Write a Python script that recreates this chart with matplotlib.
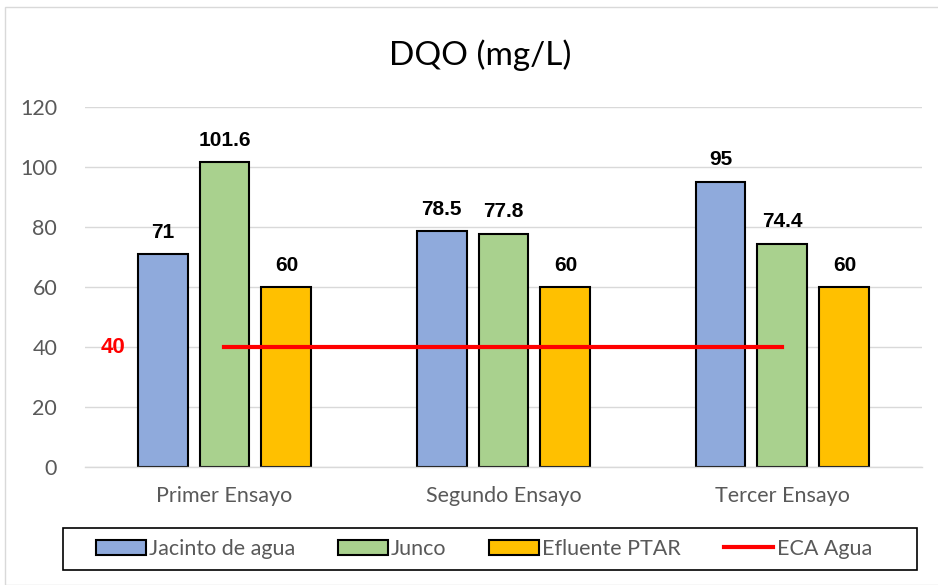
import matplotlib
matplotlib.use('Agg')
import matplotlib.pyplot as plt
import numpy as np
from matplotlib.patches import Rectangle, Patch
from matplotlib.lines import Line2D

# Datos de DQO por ensayo
ensayos = ['Primer Ensayo', 'Segundo Ensayo', 'Tercer Ensayo']
jacinto = [71, 78.5, 95]
junco = [101.6, 77.8, 74.4]
efluente = [60, 60, 60]
eca_agua = [40, 40, 40]

series = ['Jacinto de agua', 'Junco', 'Efluente PTAR']
colores = ['#8faadc', '#a9d18e', '#ffc000']
valores = [jacinto, junco, efluente]

plt.rcParams['font.family'] = ['Lato', 'DejaVu Sans']
fuente_negrita = ['Liberation Sans', 'DejaVu Sans']

fig = plt.figure(figsize=(9.38, 5.85), dpi=100)
ax = fig.add_axes([0.0906, 0.2017, 0.8923, 0.6154])

x = np.arange(len(ensayos))
ancho = 0.179
paso = 0.222

for i, (nombre, vals, color) in enumerate(zip(series, valores, colores)):
    pos = x + (i - 1) * paso
    ax.bar(pos, vals, width=ancho, color=color, edgecolor='black',
           linewidth=1.5, zorder=2)
    for xp, v in zip(pos, vals):
        ax.annotate(f'{v:g}', (xp, v), xytext=(0, 9), textcoords='offset points',
                    ha='center', va='bottom', fontsize=15, fontweight='bold',
                    family=fuente_negrita, color='black')

# Límite ECA
ax.plot(x, eca_agua, color='#ff0000', linewidth=3, zorder=3)
ax.text(-0.4, eca_agua[0], f'{eca_agua[0]:g}', color='#ff0000', fontsize=16,
        fontweight='bold', family=fuente_negrita, ha='center', va='center',
        zorder=4)

ax.set_xlim(-0.5, 2.5)
ax.set_ylim(0, 120)
ax.set_yticks(range(0, 121, 20))
ax.set_xticks(x)
ax.set_xticklabels(ensayos)
ax.tick_params(axis='both', length=0, labelsize=15.5, labelcolor='#595959')
ax.tick_params(axis='x', pad=14)
ax.tick_params(axis='y', pad=20)
ax.grid(axis='y', color='#d9d9d9', linewidth=1, zorder=0)
ax.set_axisbelow(True)
for lado in ['top', 'right', 'left']:
    ax.spines[lado].set_visible(False)
ax.spines['bottom'].set_color('#d9d9d9')
ax.spines['bottom'].set_linewidth(1)

fig.text(0.512, 0.905, 'DQO (mg/L)', ha='center', va='center', fontsize=24,
         color='black')

# Borde del área del gráfico
fig.add_artist(Rectangle((5 / 938, 0), 1, 1 - 7 / 585, transform=fig.transFigure,
                         fill=False, edgecolor='#d9d9d9', linewidth=1))

# Leyenda
handles = [Patch(facecolor=c, edgecolor='black', linewidth=1.5) for c in colores]
handles.append(Line2D([0], [0], color='#ff0000', linewidth=3))
etiquetas = series + ['ECA Agua']
fig.add_artist(Rectangle((63 / 938, 1 - 570 / 585), (917 - 63) / 938, 42 / 585,
                         transform=fig.transFigure, fill=False,
                         edgecolor='black', linewidth=1.2))
leg = fig.legend(handles, etiquetas, loc='center', ncol=4,
                 bbox_to_anchor=(484 / 938, 1 - 549 / 585), frameon=False,
                 fontsize=15.5, handlelength=2.3, handleheight=0.75,
                 handletextpad=0.15, columnspacing=2.0)
for t in leg.get_texts():
    t.set_color('#595959')

fig.savefig('out.png', dpi=100)
